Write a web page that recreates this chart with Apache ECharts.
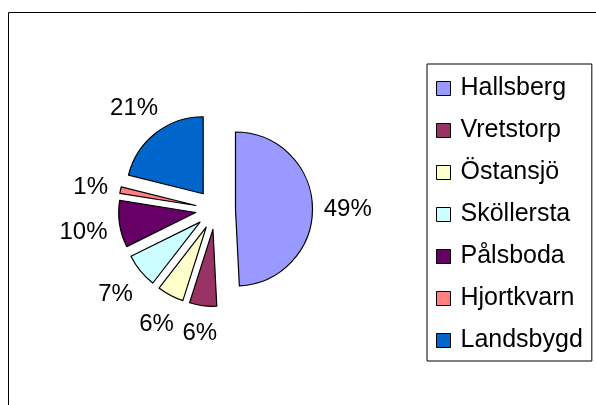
<!DOCTYPE html>
<html>
<head>
<meta charset="utf-8">
<script src="https://cdn.jsdelivr.net/npm/echarts@6/dist/echarts.min.js"></script>
<style>
html,body{margin:0;padding:0;background:#fff;}
#chart{width:596px;height:405px;}
</style>
</head>
<body>
<div id="chart"></div>
<script>
const categories = ['Hallsberg','Vretstorp','Östansjö','Sköllersta','Pålsboda','Hjortkvarn','Landsbygd'];
const values = [49.2, 5.7, 5.6, 7.2, 9.8, 1.4, 21.1];
const colors = ['#9999FF','#993366','#FFFFCC','#CCFFFF','#660066','#FF8080','#0066CC'];

const CX = 215.5, CY = 209.5, R = 77, OFFSET = 20, GAP = 11, BASELINE_SHIFT = 3;
const total = values.reduce((a, b) => a + b, 0);
const midAngles = [];
(function () {
  let acc = 0;
  values.forEach(v => { midAngles.push((acc + v / 2) / total * 2 * Math.PI); acc += v; });
})();

const chart = echarts.init(document.getElementById('chart'), null, {renderer:'canvas'});
const font = 'Liberation Sans, Arial, sans-serif';
chart.setOption({
  animation: false,
  backgroundColor: '#fff',
  graphic: [{
    type: 'rect', silent: true,
    shape: {x: 8.5, y: 12.5, width: 800, height: 600},
    style: {fill: 'none', stroke: '#000', lineWidth: 1}
  }],
  legend: {
    orient: 'vertical',
    left: 427, top: 64,
    padding: [12, 9, 8, 9],
    borderColor: '#000', borderWidth: 1,
    backgroundColor: '#fff',
    itemWidth: 14, itemHeight: 14, itemGap: 17,
    icon: 'rect',
    selectedMode: false,
    itemStyle: {borderColor: '#000', borderWidth: 1},
    textStyle: {fontFamily: font, fontSize: 25, color: '#000', lineHeight: 25, padding: [0,0,0,5]},
    data: categories
  },
  series: [{
    type: 'pie',
    center: [CX, CY],
    radius: R,
    startAngle: 90,
    clockwise: true,
    selectedMode: 'multiple',
    selectedOffset: OFFSET,
    avoidLabelOverlap: false,
    emphasis: {disabled: true},
    itemStyle: {borderColor: '#000', borderWidth: 1.2},
    label: {
      show: true, position: 'outside',
      fontFamily: font, fontSize: 24, color: '#000',
      formatter: p => Math.round(p.percent) + '%'
    },
    labelLine: {show: false, length: 6, length2: 0},
    labelLayout: function (params) {
      // labels follow the exploded slice afterwards, so place them relative to the un-exploded pie
      const a = midAngles[params.dataIndex];
      const s = Math.sin(a), c = -Math.cos(a);
      const lr = params.labelRect;
      const hw = lr.width / 2, hh = 12;
      const d = R + GAP + hw * Math.abs(s) + hh * Math.abs(c);
      const tx = CX + d * s, ty = CY + d * c + BASELINE_SHIFT;
      return {dx: tx - (lr.x + hw), dy: ty - (lr.y + lr.height / 2), hideOverlap: false};
    },
    data: categories.map((c, i) => ({name: c, value: values[i], selected: true, itemStyle: {color: colors[i]}}))
  }]
});
</script>
</body>
</html>
